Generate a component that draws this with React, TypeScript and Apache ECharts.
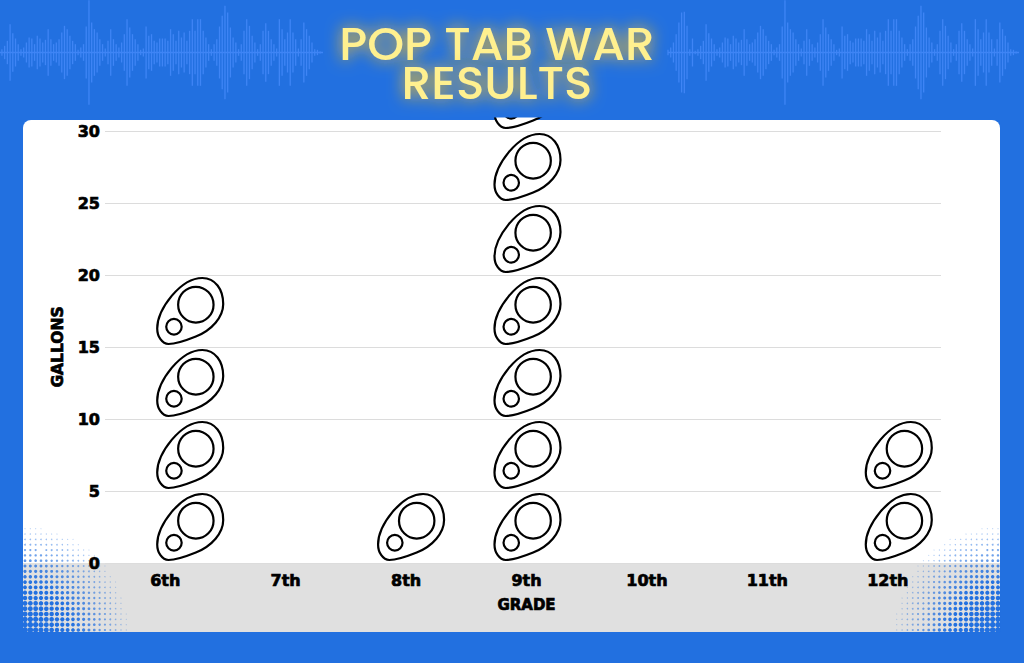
import React, { useEffect, useRef } from "react";
import * as echarts from "echarts";

const grades = ["6th", "7th", "8th", "9th", "10th", "11th", "12th"];
const gallons = [20, 0, 5, 35, 0, 0, 10];
const iconShift = [25, 0, 5, 1, 0, 0, 11];
const gallonsPerIcon = 5;
const titleLines = ["POP TAB WAR", "RESULTS"];
const wave = [8,15,30,55,90,120,122,80,10,42,5,10,20,35,85,58,42,25,10,15,30,45,42,25,50,42,30,38,70,40,25,30,40,60,80,70,50,35,25,8,15,25,78,157,90,70,60,40,25,12,35,70,40,25,15,30,55,100,75,55,40,25,8,12,78,50,55,35,30,42,42,42,35,70,55,35,65,45,60,35,65,100,65,100,100,65,45,25,10,25,40,78,110,140,120,75,45,30,10,25,65,100,80,50,30,10,25,65,88,65,40,25,12,100,70,40,60,100,60,40,12,40,90,70,50,30,10,8,3];

const BLUE = "#2270e0";
const tabPath =
  "M140,0C180,0 205,35 205,80C205,120 170,160 120,180C90,192 60,203 35,203C15,203 0,180 0,155C0,120 20,85 45,55C75,20 105,0 140,0Z" +
  "M65,82a55,55 0 1,0 110,0a55,55 0 1,0 -110,0Z" +
  "M28,150a24,24 0 1,0 48,0a24,24 0 1,0 -48,0Z";

function halftone(cornerX: number, sign: number) {
  const out: any[] = [];
  const step = 5.33;
  for (let i = 0; i < 25; i++) {
    for (let j = 0; j < 23; j++) {
      const dx = i * step + 2;
      const dy = j * step + 2;
      const d = Math.hypot(dx, dy) / 122;
      if (d >= 1) continue;
      out.push({
        type: "circle",
        z: -1,
        silent: true,
        shape: { cx: cornerX + sign * dx, cy: 632 - dy, r: Math.max(0.4, 3 * Math.pow(1 - d, 0.9)) },
        style: { fill: BLUE, opacity: Math.min(1, 1.5 * (1 - d) + 0.1) },
      });
    }
  }
  return out;
}

function waveform(startX: number) {
  const out: any[] = [
    {
      type: "line",
      z: 7,
      silent: true,
      shape: { x1: startX, y1: 52.5, x2: startX + 351, y2: 52.5 },
      style: { stroke: "#3f85f5", lineWidth: 1.3 },
    },
  ];
  wave.forEach((h, i) => {
    const x = startX + i * 2.72;
    out.push({
      type: "line",
      z: 7,
      silent: true,
      shape: { x1: x, y1: 52.5 - h / 3, x2: x, y2: 52.5 + h / 3 },
      style: { stroke: "#3f85f5", lineWidth: 1.3 },
    });
  });
  return out;
}

function renderTabs(_params: any, api: any) {
  const cat = api.value(0);
  const count = Math.round(api.value(1) / gallonsPerIcon);
  const children: any[] = [];
  for (let k = 0; k < count; k++) {
    const [cx, cy] = api.coord([cat, gallonsPerIcon * (k + 0.5)]);
    children.push({
      type: "path",
      z2: k,
      shape: {
        pathData: tabPath,
        layout: "cover",
        x: cx + iconShift[cat] - 33,
        y: cy - 33,
        width: 66,
        height: 66,
      },
      style: { fill: "#fff", stroke: "#000", lineWidth: 2.2 },
    });
  }
  return { type: "group", children };
}

export default function App() {
  const ref = useRef<HTMLDivElement>(null);
  useEffect(() => {
    const chart = echarts.init(ref.current!, null, { renderer: "svg" });
    const labelFont = {
      fontFamily: "'DejaVu Sans'",
      fontWeight: 800,
      color: "#000",
      textBorderColor: "#000",
      textBorderWidth: 0.7,
    };
    chart.setOption({
      animation: false,
      backgroundColor: BLUE,
      grid: [
        { left: 105, right: 83, top: 131, bottom: 100 },
        { left: 105, right: 76, top: 131, bottom: 100 },
      ],
      xAxis: [
        { gridIndex: 0, type: "category", data: grades, show: false },
        {
          gridIndex: 1,
          type: "category",
          data: grades,
          name: "GRADE",
          nameLocation: "middle",
          nameGap: 34,
          nameTextStyle: { ...labelFont, fontSize: 15 },
          axisLine: { show: false },
          axisTick: { show: false },
          axisLabel: { ...labelFont, fontSize: 16, margin: 9 },
        },
      ],
      yAxis: [
        {
          gridIndex: 0,
          type: "value",
          min: 0,
          max: 30,
          interval: 5,
          name: "GALLONS",
          nameLocation: "middle",
          nameGap: 36,
          nameTextStyle: { ...labelFont, fontSize: 15.5 },
          axisLine: { show: false },
          axisTick: { show: false },
          axisLabel: { ...labelFont, fontSize: 16, margin: 5 },
          splitLine: { lineStyle: { color: "#dcdcdc", width: 1 } },
        },
        {
          gridIndex: 1,
          type: "value",
          min: 0,
          max: 30,
          interval: 5,
          show: false,
          splitLine: { show: false },
        },
      ],
      series: [
        {
          type: "custom",
          xAxisIndex: 1,
          yAxisIndex: 1,
          silent: true,
          clip: false,
          z: 5,
          renderItem: renderTabs,
          encode: { x: 0, y: 1 },
          data: gallons.map((value, i) => [i, value]),
        },
      ],
      graphic: [
        {
          type: "rect",
          z: 6,
          silent: true,
          shape: { x: 0, y: 0, width: 1024, height: 117.5 },
          style: { fill: BLUE },
        },
        ...waveform(668),
        ...waveform(-28),
        {
          type: "rect",
          z: -3,
          silent: true,
          shape: { x: 23, y: 120, width: 977, height: 512, r: [8, 8, 0, 0] },
          style: { fill: "#fff" },
        },
        {
          type: "rect",
          z: -2,
          silent: true,
          shape: { x: 23, y: 563, width: 977, height: 69 },
          style: { fill: "#e0e0e0" },
        },
        ...halftone(23, 1),
        ...halftone(1000, -1),
        ...titleLines.map((t, i) => ({
          type: "text",
          z: 10,
          silent: true,
          x: 497,
          y: 43 + i * 39.5,
          style: {
            text: t,
            fill: "#fff08f",
            font: "500 47px Poppins, Lato, 'Open Sans', sans-serif",
            align: "center",
            verticalAlign: "middle",
            textShadowColor: "#ffc21a",
            textShadowBlur: 16,
          },
        })),
      ],
    });
    return () => chart.dispose();
  }, []);
  return <div ref={ref} style={{ position: "fixed", left: 0, top: 0, width: 1024, height: 663 }} />;
}
